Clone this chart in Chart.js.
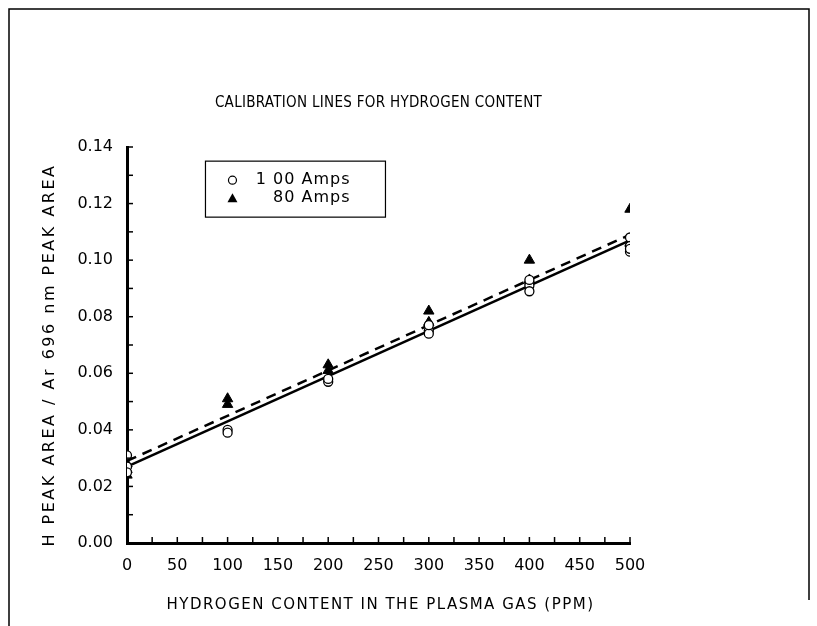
<!DOCTYPE html>
<html>
<head>
<meta charset="utf-8">
<script src="https://cdn.jsdelivr.net/npm/chart.js@4"></script>
<style>
  html, body { margin:0; padding:0; background:#fff; }
  #wrap { width:817px; height:626px; }
</style>
</head>
<body>
<div id="wrap"><canvas id="c" width="817" height="626"></canvas></div>
<script>
// ---- data ----
const ppm = [0, 0, 0, 100, 100, 200, 200, 300, 300, 300, 400, 400, 400, 400, 500, 500, 500, 500];
const amps100 = [0.031, 0.027, 0.025, 0.040, 0.039, 0.057, 0.058, 0.075, 0.074, 0.077, 0.092, 0.091, 0.089, 0.093, 0.108, 0.105, 0.103, 0.104];
const ppm80 = [0, 0, 0, 100, 100, 200, 200, 300, 300, 400, 400, 500, 500];
const amps80 = [0.028, 0.024, 0.026, 0.051, 0.049, 0.063, 0.061, 0.082, 0.078, 0.100, 0.093, 0.118, 0.106];
const fitX = [0, 500];
const fit100 = [0.027, 0.107];
const fit80 = [0.029, 0.109];
const xTicks = [0, 50, 100, 150, 200, 250, 300, 350, 400, 450, 500];
const yTicks = [0, 0.02, 0.04, 0.06, 0.08, 0.10, 0.12, 0.14];

const FONT = '"DejaVu Sans", sans-serif';

function pts(xs, ys){ return xs.map((x,i)=>({x:x, y:ys[i]})); }

// frame, titles, legend and inward ticks
const decor = {
  id: 'decor',
  afterDraw(chart){
    const g = chart.ctx;
    const xs = chart.scales.x, ys = chart.scales.y;
    const a = chart.chartArea;
    g.save();
    g.strokeStyle = '#000';
    g.lineWidth = 1.5;
    g.beginPath();
    g.moveTo(9, 626); g.lineTo(9, 9); g.lineTo(809, 9); g.lineTo(809, 600);
    g.stroke();

    g.fillStyle = '#000';
    g.textAlign = 'center';
    g.textBaseline = 'middle';

    // title
    g.font = '15px "DejaVu Sans Condensed", ' + FONT;
    g.letterSpacing = '0.3px';
    g.fillText('CALIBRATION LINES FOR HYDROGEN CONTENT', (a.left + a.right)/2, 103);

    // axis titles
    g.font = '15px ' + FONT;
    g.letterSpacing = '1.5px';
    g.fillText('HYDROGEN CONTENT IN THE PLASMA GAS (PPM)', (a.left + a.right)/2 + 2, 605);
    g.save();
    g.translate(50, (a.top + a.bottom)/2 + 10);
    g.rotate(-Math.PI/2);
    g.font = '16px ' + FONT;
    g.letterSpacing = '2.5px';
    g.fillText('H PEAK AREA / Ar 696 nm PEAK AREA', 0, 0);
    g.restore();
    g.letterSpacing = '0px';

    // inward ticks
    g.lineWidth = 1.5;
    for(let v = 25; v <= 500; v += 25){
      const px = xs.getPixelForValue(v);
      g.beginPath(); g.moveTo(px, a.bottom); g.lineTo(px, a.bottom - 6); g.stroke();
    }
    for(let v = 0.01; v <= 0.1401; v += 0.01){
      const py = ys.getPixelForValue(v);
      g.beginPath(); g.moveTo(a.left, py); g.lineTo(a.left + 6, py); g.stroke();
    }

    // legend box
    const bx = xs.getPixelForValue(78), by = ys.getPixelForValue(0.135);
    const bw = 180, bh = 56;
    g.lineWidth = 1.2;
    g.strokeRect(bx, by, bw, bh);
    g.font = '16px ' + FONT;
    g.letterSpacing = '1px';
    g.textAlign = 'right';
    g.fillText('1 00 Amps', bx + 145, by + 19);
    g.fillText('80 Amps', bx + 145, by + 37);
    g.beginPath(); g.arc(bx + 27, by + 19, 4, 0, Math.PI*2);
    g.lineWidth = 1.2; g.stroke();
    g.beginPath();
    g.moveTo(bx + 27, by + 32); g.lineTo(bx + 32, by + 41); g.lineTo(bx + 22, by + 41); g.closePath();
    g.fill();
    g.restore();
  }
};

new Chart(document.getElementById('c'), {
  type: 'scatter',
  data: {
    datasets: [
      { label: '100 Amps', data: pts(ppm, amps100), pointStyle: 'circle', pointRadius: 4.5,
        borderColor: '#000', backgroundColor: '#fff', borderWidth: 1.3 },
      { label: '80 Amps', data: pts(ppm80, amps80), pointStyle: 'triangle', pointRadius: 6,
        borderColor: '#000', backgroundColor: '#000', borderWidth: 1 },
      { type: 'line', label: 'fit 100', data: pts(fitX, fit100), showLine: true, pointRadius: 0,
        borderColor: '#000', borderWidth: 2.5, fill: false },
      { type: 'line', label: 'fit 80', data: pts(fitX, fit80), showLine: true, pointRadius: 0,
        borderColor: '#000', borderWidth: 2.5, borderDash: [10, 7], fill: false }
    ]
  },
  options: {
    responsive: false,
    animation: false,
    layout: { padding: { left: 30, right: 187, top: 147, bottom: 12 } },
    plugins: { legend: { display: false }, tooltip: { enabled: false }, title: { display: false } },
    scales: {
      x: {
        type: 'linear', min: 0, max: 500,
        afterBuildTicks: s => { s.ticks = xTicks.map(v => ({value: v})); },
        afterFit: s => { s.height = 71; },
        grid: { display: false, drawTicks: false },
        border: { display: true, color: '#000', width: 3 },
        ticks: { color: '#000', font: { family: FONT, size: 16 }, padding: 13, maxRotation: 0 }
      },
      y: {
        type: 'linear', min: 0, max: 0.14,
        afterBuildTicks: s => { s.ticks = yTicks.map(v => ({value: v})); },
        afterFit: s => { s.width = 97; },
        grid: { display: false, drawTicks: false },
        border: { display: true, color: '#000', width: 3 },
        ticks: { color: '#000', font: { family: FONT, size: 16 }, padding: 14,
                 callback: v => v.toFixed(2) }
      }
    }
  },
  plugins: [decor]
});
</script>
</body>
</html>
